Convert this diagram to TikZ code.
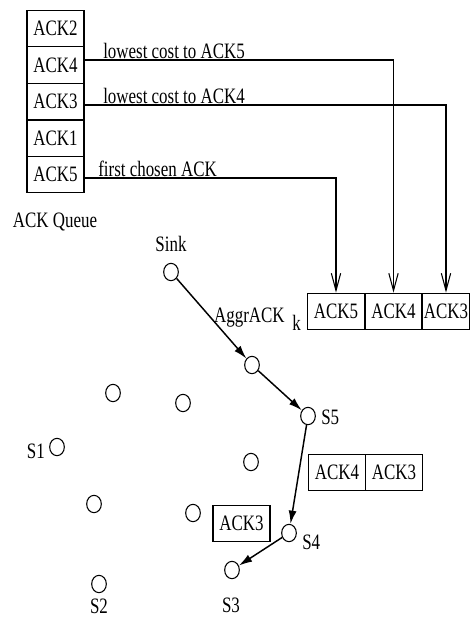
\documentclass[tikz,border=0pt]{standalone}
\usepackage{fontspec}
\setmainfont{Liberation Serif}[FakeStretch=0.77]
\usetikzlibrary{arrows.meta,shapes.geometric}
\newcommand\fs{\fontsize{16.5pt}{19pt}\selectfont}
\begin{document}
\begin{tikzpicture}[x=0.75pt,y=-0.75pt,
 cell/.style={draw, line width=0.8pt, minimum width=42.75pt, minimum height=27.5pt, inner sep=0pt, font=\fs},
 nd/.style={draw, ellipse, minimum width=11pt, minimum height=13pt, inner sep=0pt, line width=0.8pt},
 lbl/.style={font=\fs, inner sep=0pt},
 feed/.style={line width=0.8pt, -{Straight Barb[length=13pt,width=7pt]}},
 hop/.style={line width=1.1pt, -{Latex[length=10pt,width=6pt]}}]
\useasboundingbox (0,0) rectangle (469,625);
% ACK queue
\node[cell] (q2) at (55.5,28.5) {ACK2};
\node[cell] (q4) at (55.5,65) {ACK4};
\node[cell] (q3) at (55.5,101.5) {ACK3};
\node[cell] (q1) at (55.5,138.5) {ACK1};
\node[cell] (q5) at (55.5,174.5) {ACK5};
\node[lbl] (qlab) at (55,222) {ACK Queue};
% aggregated ACK
\node[cell] (b5) at (336,311.5) {ACK5};
\node[cell] (b4) at (393.5,311.5) {ACK4};
\node[cell, minimum width=35.6pt] (b3) at (446,311.5) {ACK3};
\node[lbl, anchor=base east] (agg) at (285,322) {AggrACK};
\node[lbl, anchor=base west] (k) at (292,330) {k};
% feed lines
\draw[feed] ([yshift=3.75pt]q4.east) -| (b4.north);
\draw[feed] ([yshift=-2.6pt]q3.east) -| (b3.north);
\draw[feed] ([yshift=-2.6pt]q5.east) -| (b5.north);
\node[lbl, anchor=base west] (l1) at (103,58) {lowest cost to ACK5};
\node[lbl, anchor=base west] (l2) at (103,103) {lowest cost to ACK4};
\node[lbl, anchor=base west] (l3) at (98,176) {first chosen ACK};
% sensor nodes
\node[nd] (sink) at (171,272) {};
\node[lbl] (sinkl) at (171,244) {Sink};
\node[nd] (n2) at (252,365) {};
\node[nd] (s5) at (308,416) {};
\node[lbl, anchor=west] (s5l) at (321,417) {S5};
\node[nd] (a) at (113,393) {};
\node[nd] (b) at (183,403) {};
\node[nd] (s1) at (57,447) {};
\node[lbl, anchor=east] (s1l) at (45,451) {S1};
\node[nd] (c) at (251,462) {};
\node[nd] (d) at (94,504) {};
\node[nd] (e) at (193,513) {};
\node[nd] (s4) at (289,533) {};
\node[lbl, anchor=west] (s4l) at (302,542) {S4};
\node[nd] (s3) at (232,570) {};
\node[lbl] (s3l) at (231,605) {S3};
\node[nd] (s2) at (99,584) {};
\node[lbl] (s2l) at (99,606) {S2};
% boxes along path
\node[cell] (m4) at (337,472.5) {ACK4};
\node[cell] (m3) at (394,472.5) {ACK3};
\node[cell] (r3) at (241.5,523.5) {ACK3};
% hops
\draw[hop] (sink) -- (n2);
\draw[hop] (n2) -- (s5);
\draw[hop] (s5) -- (s4);
\draw[hop] (s4) -- (s3);
\end{tikzpicture}
\end{document}
